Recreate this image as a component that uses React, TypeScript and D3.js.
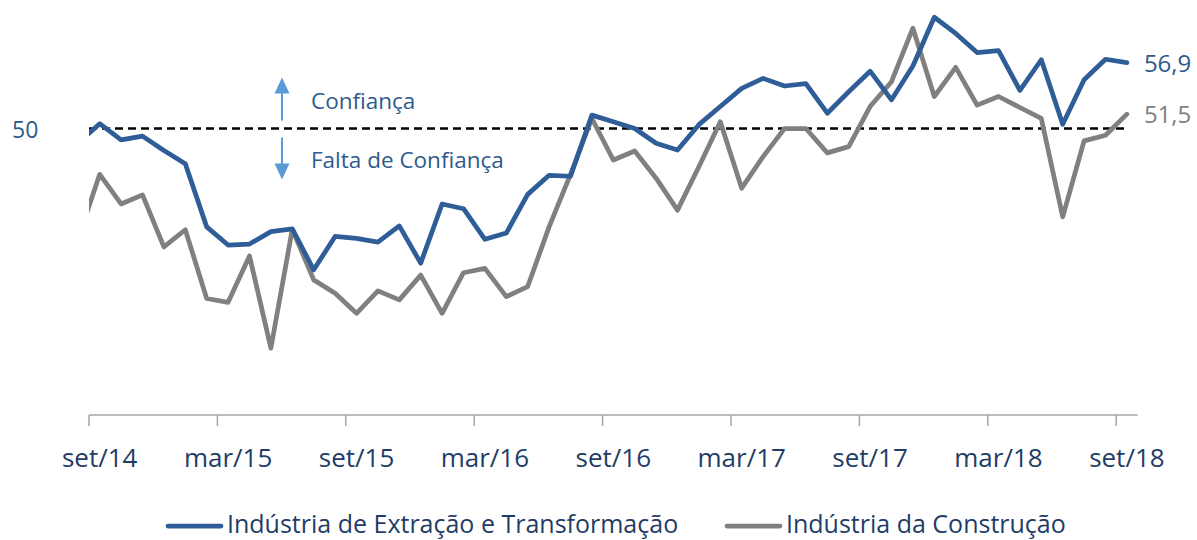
import React from "react";
import * as d3 from "d3";

// Monthly index values (first entry ago/14 lies just outside the visible axis and is clipped)
const months = [
  "ago/14", "set/14", "out/14", "nov/14", "dez/14",
  "jan/15", "fev/15", "mar/15", "abr/15", "mai/15", "jun/15", "jul/15", "ago/15", "set/15", "out/15", "nov/15", "dez/15",
  "jan/16", "fev/16", "mar/16", "abr/16", "mai/16", "jun/16", "jul/16", "ago/16", "set/16", "out/16", "nov/16", "dez/16",
  "jan/17", "fev/17", "mar/17", "abr/17", "mai/17", "jun/17", "jul/17", "ago/17", "set/17", "out/17", "nov/17", "dez/17",
  "jan/18", "fev/18", "mar/18", "abr/18", "mai/18", "jun/18", "jul/18", "ago/18", "set/18",
];

const extracaoTransformacao = [
  48.5, 50.5, 48.8, 49.2, 47.7,
  46.3, 39.7, 37.8, 37.9, 39.2, 39.5, 35.2, 38.7, 38.5, 38.1, 39.8, 35.9,
  42.1, 41.6, 38.4, 39.05, 43.1, 45.1, 45.0, 51.4, 50.7, 50.0, 48.45, 47.75,
  50.4, 52.3, 54.2, 55.25, 54.45, 54.7, 51.6, 53.85, 56.0, 53.0, 56.55, 61.65,
  59.95, 57.95, 58.15, 54.0, 57.2, 50.45, 55.1, 57.25, 56.9,
];

const construcao = [
  38.5, 45.2, 42.1, 43.05, 37.6,
  39.4, 32.2, 31.8, 36.65, 27.0, 39.45, 34.15, 32.75, 30.65, 33.0, 32.05, 34.65,
  30.65, 34.9, 35.35, 32.4, 33.45, 39.7, 45.2, 51.05, 46.7, 47.65, 44.8, 41.45,
  46.0, 50.7, 43.75, 47.05, 50.0, 50.0, 47.45, 48.1, 52.3, 54.9, 60.5, 53.35,
  56.4, 52.45, 53.35, 52.2, 51.05, 40.75, 48.7, 49.3, 51.5,
];

const tickLabels = ["set/14", "mar/15", "set/15", "mar/16", "set/16", "mar/17", "set/17", "mar/18", "set/18"];
const seriesNames = ["Indústria de Extração e Transformação", "Indústria da Construção"];
const seriesColors = ["#2E5D98", "#808080"];
const endLabels = ["56,9", "51,5"];
const referenceValue = 50;
const referenceLabel = "50";
const annotationUp = "Confiança";
const annotationDown = "Falta de Confiança";

const FONT = "'Open Sans', 'Noto Sans', sans-serif";
const NAVY = "#1F3D66";
const BLUE_TEXT = "#2E5A8C";

export default function App() {
  const W = 1197;
  const H = 540;
  const axisStart = 89;
  const catCount = 49; // set/14 .. set/18
  const catW = 21.4;
  const axisEnd = axisStart + catCount * catW;
  const axisY = 415;

  const x = d3.scaleLinear().domain([0, catCount]).range([axisStart, axisEnd]);
  const y = d3.scaleLinear().domain([20, 62]).range([axisY, axisY - 42 * 9.55]);
  // months[i] -> category index i-1 (set/14 is category 0), plotted at centre
  const px = (i: number) => x(i - 1 + 0.5);

  const line = d3
    .line<number>()
    .x((_, i) => px(i))
    .y((d) => y(d));

  const series = [extracaoTransformacao, construcao];
  const lastIdx = months.length - 1;
  const yRef = y(referenceValue);
  const arrowX = 282;

  return (
    <svg
      width={W}
      height={H}
      style={{ position: "absolute", left: 0, top: 0, background: "#fff" }}
      fontFamily={FONT}
    >
      <defs>
        <clipPath id="plotClip">
          <rect x={axisStart} y={0} width={axisEnd - axisStart} height={axisY} />
        </clipPath>
      </defs>

      {/* reference line at 50 */}
      <line
        x1={axisStart}
        x2={px(lastIdx)}
        y1={yRef}
        y2={yRef}
        stroke="#000"
        strokeWidth={2.5}
        strokeDasharray="8,5"
      />
      <text x={12} y={yRef + 9} fontSize={23} fill={BLUE_TEXT}>
        {referenceLabel}
      </text>

      {/* arrows & annotations */}
      <g fill="#5B9BD5" stroke="#5B9BD5">
        <line x1={arrowX} x2={arrowX} y1={yRef - 8} y2={yRef - 36} strokeWidth={2} />
        <path d={`M${arrowX},${yRef - 51} L${arrowX - 7.5},${yRef - 35} L${arrowX + 7.5},${yRef - 35} Z`} stroke="none" />
        <line x1={arrowX} x2={arrowX} y1={yRef + 9} y2={yRef + 37} strokeWidth={2} />
        <path d={`M${arrowX},${yRef + 51} L${arrowX - 7.5},${yRef + 35} L${arrowX + 7.5},${yRef + 35} Z`} stroke="none" />
      </g>
      <text x={311} y={yRef - 20} fontSize={22.5} fill={BLUE_TEXT}>
        {annotationUp}
      </text>
      <text x={311} y={yRef + 39} fontSize={22.5} fill={BLUE_TEXT}>
        {annotationDown}
      </text>

      {/* series */}
      <g clipPath="url(#plotClip)">
        {[1, 0].map((s) => (
          <path
            key={s}
            d={line(series[s]) || ""}
            fill="none"
            stroke={seriesColors[s]}
            strokeWidth={4.75}
            strokeLinejoin="round"
            strokeLinecap="round"
          />
        ))}
      </g>

      {/* end labels */}
      {series.map((s, k) => (
        <text key={k} x={px(lastIdx) + 17} y={y(s[lastIdx]) + 9} fontSize={24} fill={k === 0 ? BLUE_TEXT : "#808080"}>
          {endLabels[k]}
        </text>
      ))}

      {/* x axis */}
      <line x1={axisStart} x2={axisEnd} y1={axisY} y2={axisY} stroke="#A6A6A6" strokeWidth={1.5} />
      {tickLabels.map((t) => {
        const idx = months.indexOf(t) - 1;
        const tx = x(idx);
        return (
          <g key={t}>
            <line x1={tx} x2={tx} y1={axisY} y2={axisY + 11} stroke="#A6A6A6" strokeWidth={1.5} />
            <text x={x(idx + 0.5)} y={axisY + 52} textAnchor="middle" fontSize={26} fill={NAVY}>
              {t}
            </text>
          </g>
        );
      })}

      {/* legend */}
      {[
        { name: seriesNames[0], color: seriesColors[0], x0: 168 },
        { name: seriesNames[1], color: seriesColors[1], x0: 727 },
      ].map((l) => (
        <g key={l.name}>
          <line x1={l.x0} x2={l.x0 + 53} y1={526} y2={526} stroke={l.color} strokeWidth={4.75} strokeLinecap="round" />
          <text x={l.x0 + 59} y={533} fontSize={25} fill={NAVY}>
            {l.name}
          </text>
        </g>
      ))}
    </svg>
  );
}
